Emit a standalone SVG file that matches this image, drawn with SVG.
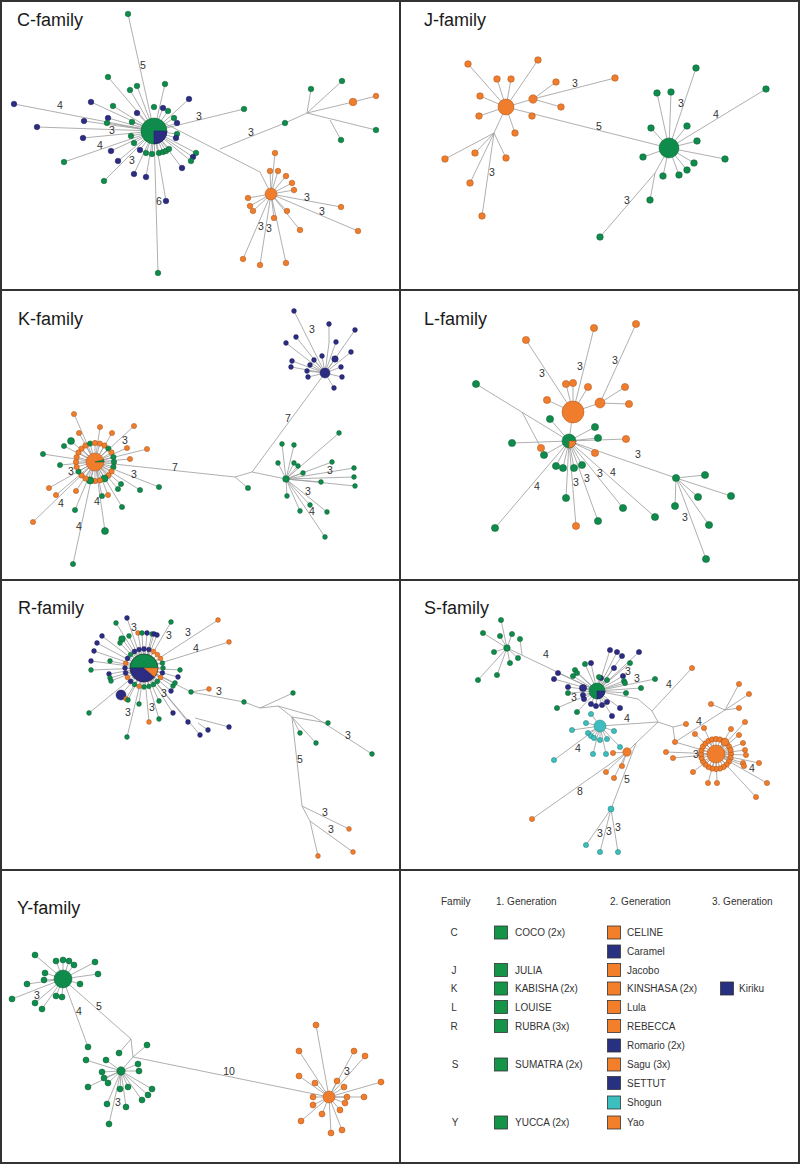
<svg xmlns="http://www.w3.org/2000/svg" width="800" height="1164" viewBox="0 0 800 1164">
<style>
.e{fill:none;stroke:#9a9a9a;stroke-width:.8}
.g{fill:#0f8b4b;stroke:#0a5e33;stroke-width:.5}
.n{fill:#2c2c83;stroke:#1c1c5a;stroke-width:.5}
.o{fill:#f07d2c;stroke:#a8521a;stroke-width:.5}
.t{fill:#3dbdbd;stroke:#267c7c;stroke-width:.5}
.ti{font-family:"Liberation Sans",Arial,sans-serif;font-size:18px;fill:#1a1a1a}
.l{font-family:"Liberation Sans",Arial,sans-serif;font-size:10.5px;fill:#333;text-anchor:middle}
.lg{font-family:"Liberation Sans",Arial,sans-serif;font-size:10px;fill:#333}
.fr{fill:none;stroke:#333;stroke-width:2}
.sq{stroke:#333;stroke-width:.8}
</style>
<rect x="0" y="0" width="800" height="1164" fill="#fff"/>
<g id="frame">
<rect class="fr" x="1" y="1" width="798" height="1162"/>
<path class="fr" d="M400 0V1164M0 290H800M0 580H800M0 870H800"/>
</g>
<g id="connectors" class="e">
<path d="M128 14L154 131M108 77L154 131M130 90L154 131M137 86L154 131M165 84L154 131M189 99L154 131M91 102L154 131M113 106L154 131M163 108L154 131M168 111L154 131M137 113L154 131M174 118L154 131M177 123L154 131M108 118L154 131M107 123L154 131M132 122L154 131M84 121L154 131M14 104L154 131M37 127L154 131M83 138L154 131M131 136L154 131M134 143L154 131M177 134L154 131M176 138L154 131M64 162L154 131M111 151L154 131M140 150L154 131M146 153L154 131M152 154L154 131M159 153L154 131M163 152L154 131M166 151L154 131M169 149L154 131M196 153L154 131M193 157L154 131M191 161L154 131M182 168L154 131M118 161L154 131M104 181L154 131M134 174L154 131M146 177L154 131M166 201L154 131M158 273L154 131M244 109L154 131"/>
<path d="M166 124L260 172L271 194M220 149L285 123L307 113L311 89M307 113L342 81M307 113L353 102L376 96M307 113L376 130M330 120L341 140"/>
<path d="M275 153L271 194M270 171L271 194M278 171L271 194M286 176L271 194M292 183L271 194M294 190L271 194M248 198L271 194M250 206L271 194M253 211L271 194M287 211L271 194M274 218L271 194M300 230L271 194M341 207L271 194M358 231L271 194M243 259L271 194M260 265L271 194M286 263L271 194"/>
<path d="M468 64L506 107M538 60L506 107M497 79L506 107M511 79L506 107M480 96L506 107M479 116L506 107M515 133L506 107M533 99L506 107M506 107L669 148M506 107L494 133M533 99L556 82M533 99L615 78M533 99L561 107M494 133L445 159M494 133L475 153M494 133L506 158M494 133L470 183M494 133L482 216"/>
<path d="M696 68L669 148M657 93L669 148M671 92L669 148M651 128L669 148M687 126L669 148M697 141L669 148M766 89L669 148M643 157L669 148M725 159L669 148M694 163L669 148M687 170L669 148M679 175L669 148M663 176L669 148M669 148L655 173L650 200M655 173L600 237"/>
<path d="M74 414L95 462M100 427L95 462M134 426L95 462M79 433L95 462M112 433L95 462M71 441L95 462M64 446L95 462M127 448L95 462M147 449L95 462M43 454L95 462M60 465L95 462M130 459L95 462M159 487L95 462M121 484L95 462M118 489L95 462M140 490L95 462M49 488L95 462M56 495L95 462M76 491L95 462M108 495L95 462M102 496L95 462M122 507L95 462M75 510L95 462M33 522L95 462M105 531L95 462M73 564L95 462"/>
<path d="M95 462L114 462M95 462L113.4 466.9M95 462L111.5 471.5M95 462L108.4 475.4M95 462L104.5 478.5M95 462L99.9 480.4M95 462L95 481M95 462L90.1 480.4M95 462L85.5 478.5M95 462L81.6 475.4M95 462L78.5 471.5M95 462L76.6 466.9M95 462L76 462M95 462L76.6 457.1M95 462L78.5 452.5M95 462L81.6 448.6M95 462L85.5 445.5M95 462L90.1 443.6M95 462L95 443M95 462L99.9 443.6M95 462L104.5 445.5M95 462L108.4 448.6M95 462L111.5 452.5M95 462L113.4 457.1"/>
<path d="M95 462L235 477L248 488M235 477L252 472L325 373M252 472L286 479"/>
<path d="M294 311L325 373M329 324L329 343L325 373M355 330L325 373M336 342L325 373M296 337L325 373M286 343L325 373M322 356L325 373M335 359L325 373M351 352L325 373M314 360L325 373M292 361L325 373M310 365L325 373M291 367L325 373M307 371L325 373M341 367L325 373M308 377L325 373M342 377L325 373M334 388L325 373"/>
<path d="M339 433L286 479M282 444L286 479M294 445L286 479M278 463L286 479M294 463L286 479M298 466L286 479M332 462L286 479M303 473L286 479M354 468L286 479M321 482L286 479M354 477L286 479M355 486L286 479M287 496L286 479M310 505L286 479M300 511L286 479M327 512L286 479M325 537L286 479"/>
<path d="M526 340L573 412M594 328L573 412M566 384L573 412M573 383L573 412M588 387L573 412M547 400L573 412M600 403L573 412M569 441L573 412M636 324L600 403M625 387L600 403M629 404L600 403"/>
<path d="M476 384L569 441M522 412L541 448M550 419L569 441M595 427L569 441M598 438L569 441M626 439L569 441M512 443L569 441M544 455L569 441M595 453L569 441M556 466L569 441M563 468L569 441M574 468L569 441M582 465L569 441M566 498L569 441M576 526L569 441M598 521L569 441M623 508L569 441M655 517L569 441M495 528L569 441M676 478L569 441M705 475L676 478M731 496L676 478M698 497L676 478M675 506L676 478M709 525L676 478M706 559L676 478"/>
<path d="M116 623L144 668M127 618L144 668M138 633L144 668M142 633L144 668M147 633L144 668M152 634L144 668M154 634L144 668M157 635L144 668M171 622L144 668M218 620L144 668M229 642L144 668M102 636L144 668M129 636L144 668M122 639L144 668M120 643L144 668M97 643L144 668M94 651L144 668M91 661L144 668M110 661L144 668M91 670L144 668M109 674L144 668M110 678L144 668M111 681L144 668M180 670L144 668M178 677L144 668M121 695L144 668M126 699L144 668M128 700L144 668M89 713L144 668M139 704L144 668M127 737L144 668M149 722L144 668M159 701L144 668M159 719L144 668M173 713L144 668M171 691L144 668M173 686L144 668M175 683L144 668"/>
<path d="M144 668L163 668M144 668L162.4 672.9M144 668L160.5 677.5M144 668L157.4 681.4M144 668L153.5 684.5M144 668L148.9 686.4M144 668L144 687M144 668L139.1 686.4M144 668L134.5 684.5M144 668L130.6 681.4M144 668L127.5 677.5M144 668L125.6 672.9M144 668L125 668M144 668L125.6 663.1M144 668L127.5 658.5M144 668L130.6 654.6M144 668L134.5 651.5M144 668L139.1 649.6M144 668L144 649M144 668L148.9 649.6M144 668L153.5 651.5M144 668L157.4 654.6M144 668L160.5 658.5M144 668L162.4 663.1"/>
<path d="M144 668L200 735M195 718L229 727M198 723L208 730M144 668L188 722M144 668L191 692L244 702L260 708L278 706M191 692L209 689M260 708L293 693M278 706L313 716L372 754M278 706L292 717L328 723M292 717L300 733M292 717L316 743M292 717L302 806L349 829M302 806L310 821L353 852M310 821L318 856"/>
<path d="M501 620L507 648M483 633L507 648M500 636L507 648M512 634L507 648M494 652L507 648M510 663L507 648M518 658L507 648M497 675L507 648M478 680L507 648M522 655L520 639M507 648L597 691"/>
<path d="M610 650L597 691M617 652L597 691M622 656L597 691M639 652L597 691M591 663L597 691M614 668L597 691M558 673L597 691M554 679L597 691M601 678L597 691M623 676L597 691M568 687L597 691M583 688L597 691M583 695L597 691M584 699L597 691M607 702L597 691M591 704L597 691M596 706L597 691M602 705L597 691M620 708L597 691M612 716L597 691M585 664L597 691M630 663L597 691M575 670L597 691M577 673L597 691M573 676L597 691M599 677L597 691M607 680L597 691M624 681L597 691M625 683L597 691M655 679L597 691M641 688L597 691M626 693L597 691M568 693L597 691M557 708L597 691M577 712L597 691"/>
<path d="M597 691L638 699L652 711L658 722M652 711L692 668M658 722L600 726M658 722L673 727L686 724M673 727L675 742L716 754M675 742L725 710L739 684M725 710L749 694M725 710L739 708M725 710L711 704M658 722L636 743L627 752M636 743L611 809"/>
<path d="M613 753L627 752M622 766L627 752M614 778L627 752M606 772L627 752M532 819L627 752M586 845L611 809M600 852L611 809M618 852L611 809"/>
<path d="M591 714L600 726M586 723L600 726M572 730L600 726M614 731L600 726M588 733L600 726M591 736L600 726M594 738L600 726M600 740L600 726M607 739L600 726M620 747L600 726M593 754L600 726M606 754L600 726M554 760L600 726"/>
<path d="M695 734L716 754M704 728L716 754M731 729L716 754M745 722L716 754M739 735L716 754M725 742L716 754M743 743L716 754M745 750L716 754M746 755L716 754M666 752L716 754M673 758L716 754M759 763L716 754M743 763L716 754M744 766L716 754M767 783L716 754M756 797L716 754M693 772L716 754M708 783L716 754M717 783L716 754"/>
<path d="M716 754L731 754M716 754L730.5 757.9M716 754L729 761.5M716 754L726.6 764.6M716 754L723.5 767M716 754L719.9 768.5M716 754L716 769M716 754L712.1 768.5M716 754L708.5 767M716 754L705.4 764.6M716 754L703 761.5M716 754L701.5 757.9M716 754L701 754M716 754L701.5 750.1M716 754L703 746.5M716 754L705.4 743.4M716 754L708.5 741M716 754L712.1 739.5M716 754L716 739M716 754L719.9 739.5M716 754L723.5 741M716 754L726.6 743.4M716 754L729 746.5M716 754L730.5 750.1"/>
<path d="M35 955L63 979M56 961L63 979M63 960L63 979M69 961L63 979M74 965L63 979M95 962L63 979M98 974L63 979M45 973L63 979M44 980L63 979M27 984L63 979M80 984L63 979M12 999L63 979M35 1003L63 979M56 996L63 979M62 997L63 979M42 1009L63 979M88 1047L63 979M63 979L131 1039L133 1057L121 1071M131 1039L119 1053M133 1057L147 1045M133 1057L329 1097"/>
<path d="M86 1060L121 1071M106 1060L121 1071M138 1064L121 1071M139 1071L121 1071M102 1072L121 1071M104 1078L121 1071M108 1083L121 1071M88 1087L121 1071M120 1089L121 1071M128 1087L121 1071M152 1089L121 1071M148 1095L121 1071M142 1100L121 1071M107 1104L121 1071M126 1107L121 1071M109 1124L121 1071"/>
<path d="M316 1025L329 1097M299 1051L329 1097M354 1051L329 1097M365 1056L329 1097M299 1076L329 1097M337 1081L329 1097M315 1083L329 1097M381 1082L329 1097M344 1087L329 1097M313 1097L329 1097M347 1097L329 1097M364 1097L329 1097M345 1103L329 1097M313 1105L329 1097M340 1110L329 1097M322 1114L329 1097M301 1121L329 1097M331 1133L329 1097M342 1130L329 1097"/>
</g>
<g id="C-family">
<text class="ti" x="17" y="25.5">C-family</text>
<g id="c-hub-coco"><circle class="g" cx="154" cy="131" r="13"/><path class="n" d="M154 131L167 131A13 13 0 0 1 154 144Z"/></g>
<g id="c-hub-celine"><circle class="o" cx="271" cy="194" r="6"/></g>
<circle id="c1" class="g" cx="128" cy="14" r="2.8"/><circle id="c2" class="g" cx="108" cy="77" r="2.8"/><circle id="c3" class="g" cx="130" cy="90" r="2.8"/><circle id="c4" class="g" cx="137" cy="86" r="2.8"/><circle id="c5" class="g" cx="165" cy="84" r="2.8"/><circle id="c6" class="n" cx="189" cy="99" r="2.8"/><circle id="c7" class="n" cx="91" cy="102" r="2.8"/><circle id="c8" class="g" cx="113" cy="106" r="2.8"/><circle id="c9" class="g" cx="154" cy="107" r="2.8"/><circle id="c10" class="n" cx="163" cy="108" r="2.8"/><circle id="c11" class="g" cx="168" cy="111" r="2.8"/><circle id="c12" class="n" cx="137" cy="113" r="2.8"/><circle id="c13" class="g" cx="174" cy="118" r="2.8"/><circle id="c14" class="n" cx="177" cy="123" r="2.8"/><circle id="c15" class="n" cx="108" cy="118" r="2.8"/><circle id="c16" class="g" cx="107" cy="123" r="2.8"/><circle id="c17" class="g" cx="132" cy="122" r="2.8"/><circle id="c18" class="n" cx="84" cy="121" r="2.8"/><circle id="c19" class="n" cx="14" cy="104" r="2.8"/><circle id="c20" class="n" cx="37" cy="127" r="2.8"/><circle id="c21" class="n" cx="83" cy="138" r="2.8"/><circle id="c22" class="g" cx="131" cy="136" r="2.8"/><circle id="c23" class="g" cx="134" cy="143" r="2.8"/><circle id="c24" class="g" cx="177" cy="134" r="2.8"/><circle id="c25" class="n" cx="176" cy="138" r="2.8"/><circle id="c26" class="g" cx="64" cy="162" r="2.8"/><circle id="c27" class="n" cx="111" cy="151" r="2.8"/><circle id="c28" class="n" cx="140" cy="150" r="2.8"/><circle id="c29" class="g" cx="146" cy="153" r="2.8"/><circle id="c30" class="g" cx="152" cy="154" r="2.8"/><circle id="c31" class="g" cx="159" cy="153" r="2.8"/><circle id="c32" class="g" cx="163" cy="152" r="2.8"/><circle id="c33" class="g" cx="166" cy="151" r="2.8"/><circle id="c34" class="g" cx="169" cy="149" r="2.8"/><circle id="c35" class="g" cx="196" cy="153" r="2.8"/><circle id="c36" class="n" cx="193" cy="157" r="2.8"/><circle id="c37" class="g" cx="191" cy="161" r="2.8"/><circle id="c38" class="n" cx="182" cy="168" r="2.8"/><circle id="c39" class="n" cx="118" cy="161" r="2.8"/><circle id="c40" class="g" cx="104" cy="181" r="2.8"/><circle id="c41" class="n" cx="134" cy="174" r="2.8"/><circle id="c42" class="n" cx="146" cy="177" r="2.8"/><circle id="c43" class="n" cx="166" cy="201" r="2.8"/><circle id="c44" class="g" cx="158" cy="273" r="2.8"/><circle id="c45" class="g" cx="244" cy="109" r="2.8"/>
<circle id="c46" class="g" cx="285" cy="123" r="2.8"/><circle id="c47" class="g" cx="311" cy="89" r="2.8"/><circle id="c48" class="g" cx="342" cy="81" r="2.8"/><circle id="c49" class="o" cx="353" cy="102" r="3.8"/><circle id="c50" class="o" cx="376" cy="96" r="2.8"/><circle id="c51" class="g" cx="376" cy="130" r="2.8"/><circle id="c52" class="g" cx="341" cy="140" r="2.8"/>
<circle id="c53" class="o" cx="275" cy="153" r="2.8"/><circle id="c54" class="o" cx="270" cy="171" r="2.8"/><circle id="c55" class="o" cx="278" cy="171" r="2.8"/><circle id="c56" class="o" cx="286" cy="176" r="2.8"/><circle id="c57" class="o" cx="292" cy="183" r="2.8"/><circle id="c58" class="o" cx="294" cy="190" r="2.8"/><circle id="c59" class="o" cx="248" cy="198" r="2.8"/><circle id="c60" class="o" cx="250" cy="206" r="2.8"/><circle id="c61" class="o" cx="253" cy="211" r="2.8"/><circle id="c62" class="o" cx="287" cy="211" r="2.8"/><circle id="c63" class="o" cx="274" cy="218" r="2.8"/><circle id="c64" class="o" cx="300" cy="230" r="2.8"/><circle id="c65" class="o" cx="341" cy="207" r="2.8"/><circle id="c66" class="o" cx="358" cy="231" r="2.8"/><circle id="c67" class="o" cx="243" cy="259" r="2.8"/><circle id="c68" class="o" cx="260" cy="265" r="2.8"/><circle id="c69" class="o" cx="286" cy="263" r="2.8"/>
<text class="l" x="143" y="69">5</text><text class="l" x="60" y="109">4</text><text class="l" x="112" y="134">3</text><text class="l" x="100" y="149">4</text><text class="l" x="132" y="164">3</text><text class="l" x="159" y="205">6</text><text class="l" x="199" y="120">3</text><text class="l" x="251" y="136">3</text><text class="l" x="307" y="201">3</text><text class="l" x="322" y="215">3</text><text class="l" x="261" y="230">3</text><text class="l" x="269" y="232">3</text>
</g>
<g id="J-family">
<text class="ti" x="424" y="25.5">J-family</text>
<g id="j-hub-jacobo"><circle class="o" cx="506" cy="107" r="8"/></g>
<g id="j-hub-julia"><circle class="g" cx="669" cy="148" r="10"/></g>
<circle id="j1" class="o" cx="468" cy="64" r="3.3"/><circle id="j2" class="o" cx="538" cy="60" r="3.3"/><circle id="j3" class="o" cx="497" cy="79" r="3.3"/><circle id="j4" class="o" cx="511" cy="79" r="3.3"/><circle id="j5" class="o" cx="480" cy="96" r="3.3"/><circle id="j6" class="o" cx="479" cy="116" r="3.3"/><circle id="j7" class="o" cx="515" cy="133" r="3.3"/><circle id="j8" class="o" cx="533" cy="99" r="4.2"/><circle id="j9" class="o" cx="532" cy="116" r="3.3"/><circle id="j10" class="o" cx="556" cy="82" r="3.3"/><circle id="j11" class="o" cx="615" cy="78" r="3.3"/><circle id="j12" class="o" cx="561" cy="107" r="3.3"/><circle id="j13" class="o" cx="445" cy="159" r="3.3"/><circle id="j14" class="o" cx="475" cy="153" r="3.3"/><circle id="j15" class="o" cx="506" cy="158" r="3.3"/><circle id="j16" class="o" cx="470" cy="183" r="3.3"/><circle id="j17" class="o" cx="482" cy="216" r="3.3"/>
<circle id="j18" class="g" cx="696" cy="68" r="3.3"/><circle id="j19" class="g" cx="657" cy="93" r="3.3"/><circle id="j20" class="g" cx="671" cy="92" r="3.3"/><circle id="j21" class="g" cx="651" cy="128" r="3.3"/><circle id="j22" class="g" cx="687" cy="126" r="3.3"/><circle id="j23" class="g" cx="697" cy="141" r="3.3"/><circle id="j24" class="g" cx="766" cy="89" r="3.3"/><circle id="j25" class="g" cx="643" cy="157" r="3.3"/><circle id="j26" class="g" cx="725" cy="159" r="3.3"/><circle id="j27" class="g" cx="694" cy="163" r="3.3"/><circle id="j28" class="g" cx="687" cy="170" r="3.3"/><circle id="j29" class="g" cx="679" cy="175" r="3.3"/><circle id="j30" class="g" cx="663" cy="176" r="3.3"/><circle id="j31" class="g" cx="650" cy="200" r="3.3"/><circle id="j32" class="g" cx="600" cy="237" r="3.3"/>
<text class="l" x="575" y="87">3</text><text class="l" x="599" y="130">5</text><text class="l" x="492" y="176">3</text><text class="l" x="681" y="107">3</text><text class="l" x="716" y="118">4</text><text class="l" x="627" y="204">3</text>
</g>
<g id="K-family">
<text class="ti" x="18" y="324.5">K-family</text>
<g id="k-hub-kabisha"><circle class="o" cx="95" cy="462" r="9"/><path class="g" d="M95 462L104 462A9 9 0 0 0 103.7 459.7Z"/></g>
<g id="k-ring">
<circle class="g" cx="114" cy="462" r="2.7"/><circle class="g" cx="113.4" cy="466.9" r="2.7"/><circle class="o" cx="111.5" cy="471.5" r="2.7"/><circle class="o" cx="108.4" cy="475.4" r="2.7"/><circle class="g" cx="104.5" cy="478.5" r="3.6"/><circle class="o" cx="99.9" cy="480.4" r="2.7"/><circle class="o" cx="95" cy="481" r="2.7"/><circle class="g" cx="90.1" cy="480.4" r="3.6"/><circle class="o" cx="85.5" cy="478.5" r="2.7"/><circle class="o" cx="81.6" cy="475.4" r="2.7"/><circle class="g" cx="78.5" cy="471.5" r="2.7"/><circle class="o" cx="76.6" cy="466.9" r="2.7"/><circle class="o" cx="76" cy="462" r="2.7"/><circle class="o" cx="76.6" cy="457.1" r="2.7"/><circle class="o" cx="78.5" cy="452.5" r="2.7"/><circle class="o" cx="81.6" cy="448.6" r="2.7"/><circle class="o" cx="85.5" cy="445.5" r="2.7"/><circle class="g" cx="90.1" cy="443.6" r="2.7"/><circle class="o" cx="95" cy="443" r="2.7"/><circle class="o" cx="99.9" cy="443.6" r="2.7"/><circle class="o" cx="104.5" cy="445.5" r="2.7"/><circle class="g" cx="108.4" cy="448.6" r="2.7"/><circle class="o" cx="111.5" cy="452.5" r="2.7"/><circle class="g" cx="113.4" cy="457.1" r="2.7"/>
</g>
<circle id="k1" class="o" cx="74" cy="414" r="2.6"/><circle id="k2" class="o" cx="100" cy="427" r="2.6"/><circle id="k3" class="o" cx="134" cy="426" r="2.6"/><circle id="k4" class="o" cx="79" cy="433" r="2.6"/><circle id="k5" class="o" cx="112" cy="433" r="2.6"/><circle id="k6" class="g" cx="71" cy="441" r="3.5"/><circle id="k7" class="g" cx="64" cy="446" r="2.6"/><circle id="k8" class="o" cx="127" cy="448" r="2.6"/><circle id="k9" class="o" cx="147" cy="449" r="2.6"/><circle id="k10" class="g" cx="43" cy="454" r="2.6"/><circle id="k11" class="g" cx="60" cy="465" r="2.6"/><circle id="k12" class="o" cx="130" cy="459" r="2.6"/><circle id="k13" class="g" cx="159" cy="487" r="2.6"/><circle id="k14" class="g" cx="121" cy="484" r="2.6"/><circle id="k15" class="g" cx="118" cy="489" r="2.6"/><circle id="k16" class="g" cx="140" cy="490" r="2.6"/><circle id="k17" class="o" cx="49" cy="488" r="2.6"/><circle id="k18" class="o" cx="56" cy="495" r="2.6"/><circle id="k19" class="o" cx="76" cy="491" r="2.6"/><circle id="k20" class="o" cx="108" cy="495" r="2.6"/><circle id="k21" class="g" cx="102" cy="496" r="2.6"/><circle id="k22" class="g" cx="122" cy="507" r="2.6"/><circle id="k23" class="g" cx="75" cy="510" r="2.6"/><circle id="k24" class="o" cx="33" cy="522" r="2.6"/><circle id="k25" class="g" cx="105" cy="531" r="3.5"/><circle id="k26" class="g" cx="73" cy="564" r="2.6"/><circle id="k27" class="g" cx="248" cy="488" r="2.6"/>
<g id="k-hub-kiriku"><circle class="n" cx="325" cy="373" r="5"/></g>
<circle id="k28" class="n" cx="294" cy="311" r="2.4"/><circle id="k29" class="n" cx="329" cy="324" r="2.4"/><circle id="k30" class="n" cx="355" cy="330" r="2.4"/><circle id="k31" class="n" cx="336" cy="342" r="2.4"/><circle id="k32" class="n" cx="296" cy="337" r="2.4"/><circle id="k33" class="n" cx="286" cy="343" r="2.4"/><circle id="k34" class="n" cx="322" cy="356" r="2.4"/><circle id="k35" class="n" cx="335" cy="359" r="3.2"/><circle id="k36" class="n" cx="351" cy="352" r="2.4"/><circle id="k37" class="n" cx="314" cy="360" r="2.4"/><circle id="k38" class="n" cx="292" cy="361" r="2.4"/><circle id="k39" class="n" cx="310" cy="365" r="2.4"/><circle id="k40" class="n" cx="291" cy="367" r="2.4"/><circle id="k41" class="n" cx="307" cy="371" r="2.4"/><circle id="k42" class="n" cx="341" cy="367" r="2.4"/><circle id="k43" class="n" cx="308" cy="377" r="2.4"/><circle id="k44" class="n" cx="342" cy="377" r="2.4"/><circle id="k45" class="n" cx="334" cy="388" r="2.4"/>
<g id="k-hub-kabisha2"><circle class="g" cx="286" cy="479" r="3.3"/></g>
<circle id="k46" class="g" cx="339" cy="433" r="2.4"/><circle id="k47" class="g" cx="282" cy="444" r="2.4"/><circle id="k48" class="g" cx="294" cy="445" r="2.4"/><circle id="k49" class="g" cx="278" cy="463" r="2.4"/><circle id="k50" class="g" cx="294" cy="463" r="2.4"/><circle id="k51" class="g" cx="298" cy="466" r="2.4"/><circle id="k52" class="g" cx="332" cy="462" r="2.4"/><circle id="k53" class="g" cx="303" cy="473" r="2.4"/><circle id="k54" class="g" cx="354" cy="468" r="2.4"/><circle id="k55" class="g" cx="321" cy="482" r="2.4"/><circle id="k56" class="g" cx="354" cy="477" r="2.4"/><circle id="k57" class="g" cx="355" cy="486" r="2.4"/><circle id="k58" class="g" cx="287" cy="496" r="2.4"/><circle id="k59" class="g" cx="310" cy="505" r="2.4"/><circle id="k60" class="g" cx="300" cy="511" r="2.4"/><circle id="k61" class="g" cx="327" cy="512" r="2.4"/><circle id="k62" class="g" cx="325" cy="537" r="2.4"/>
<text class="l" x="125" y="444">3</text><text class="l" x="134" y="478">3</text><text class="l" x="71" y="475">3</text><text class="l" x="61" y="507">4</text><text class="l" x="97" y="505">4</text><text class="l" x="79" y="530">4</text><text class="l" x="175" y="471">7</text><text class="l" x="288" y="422">7</text><text class="l" x="312" y="333">3</text><text class="l" x="330" y="474">3</text><text class="l" x="308" y="495">3</text><text class="l" x="312" y="515">4</text>
</g>
<g id="L-family">
<text class="ti" x="424" y="324.5">L-family</text>
<g id="l-hub-lula"><circle class="o" cx="573" cy="412" r="11"/></g>
<g id="l-hub-lula2"><circle class="o" cx="600" cy="403" r="5"/></g>
<g id="l-hub-louise"><circle class="g" cx="569" cy="441" r="7"/><path class="o" d="M569 441L576 441A7 7 0 0 1 569 448Z"/></g>
<circle id="l1" class="o" cx="526" cy="340" r="3.6"/><circle id="l2" class="o" cx="594" cy="328" r="3.6"/><circle id="l3" class="o" cx="566" cy="384" r="3.6"/><circle id="l4" class="o" cx="573" cy="383" r="3.6"/><circle id="l5" class="o" cx="588" cy="387" r="3.6"/><circle id="l6" class="o" cx="547" cy="400" r="3.6"/><circle id="l7" class="o" cx="636" cy="324" r="3.6"/><circle id="l8" class="o" cx="625" cy="387" r="3.6"/><circle id="l9" class="o" cx="629" cy="404" r="3.6"/><circle id="l10" class="o" cx="626" cy="439" r="3.6"/><circle id="l11" class="o" cx="541" cy="448" r="3.6"/><circle id="l12" class="o" cx="595" cy="453" r="3.6"/><circle id="l13" class="o" cx="576" cy="526" r="3.6"/>
<circle id="l14" class="g" cx="476" cy="384" r="3.6"/><circle id="l15" class="g" cx="550" cy="419" r="3.6"/><circle id="l16" class="g" cx="595" cy="427" r="3.6"/><circle id="l17" class="g" cx="598" cy="438" r="3.6"/><circle id="l18" class="g" cx="512" cy="443" r="3.6"/><circle id="l19" class="g" cx="544" cy="455" r="3.6"/><circle id="l20" class="g" cx="556" cy="466" r="3.6"/><circle id="l21" class="g" cx="563" cy="468" r="3.6"/><circle id="l22" class="g" cx="574" cy="468" r="3.6"/><circle id="l23" class="g" cx="582" cy="465" r="3.6"/><circle id="l24" class="g" cx="566" cy="498" r="3.6"/><circle id="l25" class="g" cx="598" cy="521" r="3.6"/><circle id="l26" class="g" cx="623" cy="508" r="3.6"/><circle id="l27" class="g" cx="655" cy="517" r="3.6"/><circle id="l28" class="g" cx="495" cy="528" r="3.6"/><circle id="l29" class="g" cx="676" cy="478" r="3.6"/><circle id="l30" class="g" cx="705" cy="475" r="3.6"/><circle id="l31" class="g" cx="731" cy="496" r="3.6"/><circle id="l32" class="g" cx="698" cy="497" r="3.6"/><circle id="l33" class="g" cx="675" cy="506" r="3.6"/><circle id="l34" class="g" cx="709" cy="525" r="3.6"/><circle id="l35" class="g" cx="706" cy="559" r="3.6"/>
<text class="l" x="542" y="377">3</text><text class="l" x="580" y="370">3</text><text class="l" x="615" y="364">3</text><text class="l" x="638" y="458">3</text><text class="l" x="576" y="486">3</text><text class="l" x="587" y="482">3</text><text class="l" x="600" y="477">3</text><text class="l" x="613" y="476">4</text><text class="l" x="537" y="490">4</text><text class="l" x="685" y="521">3</text>
</g>
<g id="R-family">
<text class="ti" x="18" y="613.5">R-family</text>
<g id="r-hub-rubra"><path class="g" d="M130 668A14 14 0 0 1 158 668Z"/><path class="n" d="M144 668L154.7 677A14 14 0 0 1 130 668Z"/><path class="o" d="M144 668L158 668A14 14 0 0 1 154.7 677Z"/><circle cx="144" cy="668" r="14" fill="none" stroke="#333" stroke-width=".5"/></g>
<g id="r-ring">
<circle class="g" cx="163" cy="668" r="2.4"/><circle class="n" cx="162.4" cy="672.9" r="2.4"/><circle class="o" cx="160.5" cy="677.5" r="2.4"/><circle class="g" cx="157.4" cy="681.4" r="2.4"/><circle class="g" cx="153.5" cy="684.5" r="2.4"/><circle class="g" cx="148.9" cy="686.4" r="2.4"/><circle class="g" cx="144" cy="687" r="2.4"/><circle class="o" cx="139.1" cy="686.4" r="2.4"/><circle class="g" cx="134.5" cy="684.5" r="2.4"/><circle class="n" cx="130.6" cy="681.4" r="2.4"/><circle class="o" cx="127.5" cy="677.5" r="2.4"/><circle class="n" cx="125.6" cy="672.9" r="2.4"/><circle class="n" cx="125" cy="668" r="2.4"/><circle class="o" cx="125.6" cy="663.1" r="2.4"/><circle class="n" cx="127.5" cy="658.5" r="2.4"/><circle class="g" cx="130.6" cy="654.6" r="2.4"/><circle class="n" cx="134.5" cy="651.5" r="2.4"/><circle class="n" cx="139.1" cy="649.6" r="2.4"/><circle class="n" cx="144" cy="649" r="2.4"/><circle class="n" cx="148.9" cy="649.6" r="2.4"/><circle class="o" cx="153.5" cy="651.5" r="2.4"/><circle class="o" cx="157.4" cy="654.6" r="2.4"/><circle class="o" cx="160.5" cy="658.5" r="2.4"/><circle class="g" cx="162.4" cy="663.1" r="2.4"/>
</g>
<circle id="r1" class="g" cx="116" cy="623" r="2.4"/><circle id="r2" class="n" cx="127" cy="618" r="2.4"/><circle id="r3" class="o" cx="138" cy="633" r="2.4"/><circle id="r4" class="g" cx="142" cy="633" r="2.4"/><circle id="r5" class="n" cx="147" cy="633" r="2.4"/><circle id="r6" class="g" cx="152" cy="634" r="2.4"/><circle id="r7" class="n" cx="154" cy="634" r="2.4"/><circle id="r8" class="n" cx="157" cy="635" r="2.4"/><circle id="r9" class="g" cx="171" cy="622" r="2.4"/><circle id="r10" class="o" cx="218" cy="620" r="2.4"/><circle id="r11" class="o" cx="229" cy="642" r="2.4"/><circle id="r12" class="n" cx="102" cy="636" r="2.4"/><circle id="r13" class="g" cx="129" cy="636" r="2.4"/><circle id="r14" class="g" cx="122" cy="639" r="3.3"/><circle id="r15" class="g" cx="120" cy="643" r="2.4"/><circle id="r16" class="n" cx="97" cy="643" r="2.4"/><circle id="r17" class="n" cx="94" cy="651" r="2.4"/><circle id="r18" class="n" cx="91" cy="661" r="2.4"/><circle id="r19" class="g" cx="110" cy="661" r="2.4"/><circle id="r20" class="g" cx="91" cy="670" r="2.4"/><circle id="r21" class="n" cx="109" cy="674" r="2.4"/><circle id="r22" class="g" cx="110" cy="678" r="2.4"/><circle id="r23" class="g" cx="111" cy="681" r="2.4"/><circle id="r24" class="g" cx="180" cy="670" r="2.4"/><circle id="r25" class="n" cx="178" cy="677" r="2.4"/><circle id="r26" class="n" cx="121" cy="695" r="5"/><circle id="r27" class="o" cx="126" cy="699" r="2.4"/><circle id="r28" class="g" cx="128" cy="700" r="2.4"/><circle id="r29" class="g" cx="89" cy="713" r="2.4"/><circle id="r30" class="g" cx="139" cy="704" r="2.4"/><circle id="r31" class="g" cx="127" cy="737" r="2.4"/><circle id="r32" class="o" cx="149" cy="722" r="2.4"/><circle id="r33" class="g" cx="159" cy="701" r="2.4"/><circle id="r34" class="g" cx="159" cy="719" r="2.4"/><circle id="r35" class="n" cx="173" cy="713" r="2.4"/><circle id="r36" class="n" cx="171" cy="691" r="2.4"/><circle id="r37" class="g" cx="173" cy="686" r="2.4"/><circle id="r38" class="g" cx="175" cy="683" r="2.4"/>
<circle id="r39" class="n" cx="200" cy="735" r="2.4"/><circle id="r40" class="n" cx="188" cy="722" r="2.4"/><circle id="r41" class="n" cx="208" cy="730" r="2.4"/><circle id="r42" class="n" cx="229" cy="727" r="2.4"/><circle id="r43" class="g" cx="191" cy="692" r="2.4"/><circle id="r44" class="o" cx="209" cy="689" r="2.4"/><circle id="r45" class="g" cx="244" cy="702" r="2.4"/><circle id="r46" class="g" cx="293" cy="693" r="2.4"/><circle id="r47" class="g" cx="328" cy="723" r="2.4"/><circle id="r48" class="g" cx="300" cy="733" r="2.4"/><circle id="r49" class="g" cx="316" cy="743" r="2.4"/><circle id="r50" class="g" cx="372" cy="754" r="2.4"/><circle id="r51" class="o" cx="349" cy="829" r="2.4"/><circle id="r52" class="o" cx="353" cy="852" r="2.4"/><circle id="r53" class="o" cx="318" cy="856" r="2.4"/>
<text class="l" x="134" y="631">3</text><text class="l" x="169" y="639">3</text><text class="l" x="188" y="636">3</text><text class="l" x="196" y="652">4</text><text class="l" x="128" y="716">3</text><text class="l" x="152" y="711">3</text><text class="l" x="164" y="697">3</text><text class="l" x="219" y="695">3</text><text class="l" x="348" y="739">3</text><text class="l" x="300" y="763">5</text><text class="l" x="325" y="816">3</text><text class="l" x="331" y="833">3</text>
</g>
<g id="S-family">
<text class="ti" x="424" y="613.5">S-family</text>
<g id="s-hub-sumatra2"><circle class="g" cx="507" cy="648" r="3.3"/></g>
<circle id="s1" class="g" cx="501" cy="620" r="2.6"/><circle id="s2" class="g" cx="483" cy="633" r="2.6"/><circle id="s3" class="g" cx="500" cy="636" r="2.6"/><circle id="s4" class="g" cx="512" cy="634" r="2.6"/><circle id="s5" class="g" cx="520" cy="639" r="2.6"/><circle id="s6" class="g" cx="494" cy="652" r="2.6"/><circle id="s7" class="g" cx="510" cy="663" r="2.6"/><circle id="s8" class="g" cx="518" cy="658" r="2.6"/><circle id="s9" class="g" cx="497" cy="675" r="2.6"/><circle id="s10" class="g" cx="478" cy="680" r="2.6"/>
<circle id="s11" class="n" cx="610" cy="650" r="2.6"/><circle id="s12" class="n" cx="617" cy="652" r="2.6"/><circle id="s13" class="n" cx="622" cy="656" r="2.6"/><circle id="s14" class="n" cx="639" cy="652" r="2.6"/><circle id="s15" class="n" cx="591" cy="663" r="2.6"/><circle id="s16" class="n" cx="614" cy="668" r="2.6"/><circle id="s17" class="n" cx="558" cy="673" r="2.6"/><circle id="s18" class="n" cx="554" cy="679" r="2.6"/><circle id="s19" class="n" cx="601" cy="678" r="2.6"/><circle id="s20" class="n" cx="623" cy="676" r="2.6"/><circle id="s21" class="n" cx="568" cy="687" r="2.6"/><circle id="s22" class="n" cx="583" cy="688" r="3.6"/><circle id="s23" class="n" cx="583" cy="695" r="2.6"/><circle id="s24" class="n" cx="584" cy="699" r="2.6"/><circle id="s25" class="n" cx="607" cy="702" r="2.6"/><circle id="s26" class="n" cx="591" cy="704" r="2.6"/><circle id="s27" class="n" cx="596" cy="706" r="2.6"/><circle id="s28" class="n" cx="602" cy="705" r="2.6"/><circle id="s29" class="n" cx="620" cy="708" r="2.6"/><circle id="s30" class="n" cx="612" cy="716" r="2.6"/>
<circle id="s31" class="g" cx="585" cy="664" r="2.6"/><circle id="s32" class="g" cx="630" cy="663" r="2.6"/><circle id="s33" class="g" cx="575" cy="670" r="2.6"/><circle id="s34" class="g" cx="577" cy="673" r="2.6"/><circle id="s35" class="g" cx="573" cy="676" r="2.6"/><circle id="s36" class="g" cx="599" cy="677" r="2.6"/><circle id="s37" class="g" cx="607" cy="680" r="2.6"/><circle id="s38" class="g" cx="624" cy="681" r="2.6"/><circle id="s39" class="g" cx="625" cy="683" r="2.6"/><circle id="s40" class="g" cx="655" cy="679" r="2.6"/><circle id="s41" class="g" cx="641" cy="688" r="2.6"/><circle id="s42" class="g" cx="626" cy="693" r="2.6"/><circle id="s43" class="g" cx="568" cy="693" r="2.6"/><circle id="s44" class="g" cx="557" cy="708" r="2.6"/><circle id="s45" class="g" cx="577" cy="712" r="2.6"/>
<g id="s-hub-sumatra"><circle class="g" cx="597" cy="691" r="8"/><path class="n" d="M597 691L605 691A8 8 0 0 1 597 699Z"/></g>
<g id="s-hub-shogun"><circle class="t" cx="600" cy="726" r="6"/></g>
<circle id="s46" class="t" cx="591" cy="714" r="2.6"/><circle id="s47" class="t" cx="586" cy="723" r="2.6"/><circle id="s48" class="t" cx="572" cy="730" r="2.6"/><circle id="s49" class="t" cx="614" cy="731" r="2.6"/><circle id="s50" class="t" cx="588" cy="733" r="2.6"/><circle id="s51" class="t" cx="591" cy="736" r="2.6"/><circle id="s52" class="t" cx="594" cy="738" r="2.6"/><circle id="s53" class="t" cx="600" cy="740" r="2.6"/><circle id="s54" class="t" cx="607" cy="739" r="2.6"/><circle id="s55" class="t" cx="620" cy="747" r="2.6"/><circle id="s56" class="t" cx="593" cy="754" r="2.6"/><circle id="s57" class="t" cx="606" cy="754" r="2.6"/><circle id="s58" class="t" cx="554" cy="760" r="2.6"/>
<g id="s-hub-sagu2"><circle class="o" cx="627" cy="752" r="4.2"/></g>
<circle id="s59" class="o" cx="613" cy="753" r="2.6"/><circle id="s60" class="o" cx="622" cy="766" r="2.6"/><circle id="s61" class="o" cx="614" cy="778" r="2.6"/><circle id="s62" class="o" cx="606" cy="772" r="2.6"/><circle id="s63" class="o" cx="532" cy="819" r="2.6"/>
<g id="s-hub-shogun2"><circle class="t" cx="611" cy="809" r="3"/></g>
<circle id="s64" class="t" cx="586" cy="845" r="2.6"/><circle id="s65" class="t" cx="600" cy="852" r="2.6"/><circle id="s66" class="t" cx="618" cy="852" r="2.6"/>
<circle id="s67" class="o" cx="692" cy="668" r="2.6"/><circle id="s68" class="o" cx="686" cy="724" r="2.6"/><circle id="s69" class="o" cx="675" cy="742" r="2.6"/><circle id="s70" class="o" cx="739" cy="684" r="2.6"/><circle id="s71" class="o" cx="749" cy="694" r="2.6"/><circle id="s72" class="o" cx="739" cy="708" r="2.6"/><circle id="s73" class="o" cx="711" cy="704" r="2.6"/>
<g id="s-ring">
<circle class="o" cx="731" cy="754" r="2.7"/><circle class="o" cx="730.5" cy="757.9" r="2.7"/><circle class="o" cx="729" cy="761.5" r="2.7"/><circle class="o" cx="726.6" cy="764.6" r="2.7"/><circle class="o" cx="723.5" cy="767" r="2.7"/><circle class="o" cx="719.9" cy="768.5" r="2.7"/><circle class="o" cx="716" cy="769" r="2.7"/><circle class="o" cx="712.1" cy="768.5" r="2.7"/><circle class="o" cx="708.5" cy="767" r="2.7"/><circle class="o" cx="705.4" cy="764.6" r="2.7"/><circle class="o" cx="703" cy="761.5" r="2.7"/><circle class="o" cx="701.5" cy="757.9" r="2.7"/><circle class="o" cx="701" cy="754" r="2.7"/><circle class="o" cx="701.5" cy="750.1" r="2.7"/><circle class="o" cx="703" cy="746.5" r="2.7"/><circle class="o" cx="705.4" cy="743.4" r="2.7"/><circle class="o" cx="708.5" cy="741" r="2.7"/><circle class="o" cx="712.1" cy="739.5" r="2.7"/><circle class="o" cx="716" cy="739" r="2.7"/><circle class="o" cx="719.9" cy="739.5" r="2.7"/><circle class="o" cx="723.5" cy="741" r="2.7"/><circle class="o" cx="726.6" cy="743.4" r="2.7"/><circle class="o" cx="729" cy="746.5" r="2.7"/><circle class="o" cx="730.5" cy="750.1" r="2.7"/>
</g>
<g id="s-hub-sagu"><circle class="o" cx="716" cy="754" r="9"/></g>
<circle id="s74" class="o" cx="695" cy="734" r="2.6"/><circle id="s75" class="o" cx="704" cy="728" r="2.6"/><circle id="s76" class="o" cx="731" cy="729" r="2.6"/><circle id="s77" class="o" cx="745" cy="722" r="2.6"/><circle id="s78" class="o" cx="739" cy="735" r="2.6"/><circle id="s79" class="o" cx="725" cy="742" r="3.8"/><circle id="s80" class="o" cx="743" cy="743" r="2.6"/><circle id="s81" class="o" cx="745" cy="750" r="2.6"/><circle id="s82" class="o" cx="746" cy="755" r="2.6"/><circle id="s83" class="o" cx="666" cy="752" r="2.6"/><circle id="s84" class="o" cx="673" cy="758" r="2.6"/><circle id="s85" class="o" cx="759" cy="763" r="2.6"/><circle id="s86" class="o" cx="743" cy="763" r="2.6"/><circle id="s87" class="o" cx="744" cy="766" r="2.6"/><circle id="s88" class="o" cx="767" cy="783" r="2.6"/><circle id="s89" class="o" cx="756" cy="797" r="2.6"/><circle id="s90" class="o" cx="693" cy="772" r="2.6"/><circle id="s91" class="o" cx="708" cy="783" r="2.6"/><circle id="s92" class="o" cx="717" cy="783" r="2.6"/>
<text class="l" x="546" y="658">4</text><text class="l" x="628" y="675">3</text><text class="l" x="637" y="682">3</text><text class="l" x="574" y="701">3</text><text class="l" x="669" y="688">4</text><text class="l" x="627" y="722">4</text><text class="l" x="699" y="725">4</text><text class="l" x="696" y="758">3</text><text class="l" x="752" y="772">4</text><text class="l" x="578" y="752">4</text><text class="l" x="580" y="795">8</text><text class="l" x="627" y="783">5</text><text class="l" x="600" y="837">3</text><text class="l" x="609" y="835">3</text><text class="l" x="618" y="831">3</text>
</g>
<g id="Y-family">
<text class="ti" x="17" y="913.5">Y-family</text>
<g id="y-hub-yucca"><circle class="g" cx="63" cy="979" r="9"/></g>
<g id="y-hub-yucca2"><circle class="g" cx="121" cy="1071" r="4.2"/></g>
<g id="y-hub-yao"><circle class="o" cx="329" cy="1097" r="6"/></g>
<circle id="y1" class="g" cx="35" cy="955" r="3"/><circle id="y2" class="g" cx="56" cy="961" r="3"/><circle id="y3" class="g" cx="63" cy="960" r="3"/><circle id="y4" class="g" cx="69" cy="961" r="3"/><circle id="y5" class="g" cx="74" cy="965" r="3"/><circle id="y6" class="g" cx="95" cy="962" r="3"/><circle id="y7" class="g" cx="98" cy="974" r="3"/><circle id="y8" class="g" cx="45" cy="973" r="3"/><circle id="y9" class="g" cx="44" cy="980" r="3"/><circle id="y10" class="g" cx="27" cy="984" r="3"/><circle id="y11" class="g" cx="80" cy="984" r="3"/><circle id="y12" class="g" cx="12" cy="999" r="3"/><circle id="y13" class="g" cx="35" cy="1003" r="3"/><circle id="y14" class="g" cx="56" cy="996" r="3"/><circle id="y15" class="g" cx="62" cy="997" r="3"/><circle id="y16" class="g" cx="42" cy="1009" r="3"/><circle id="y17" class="g" cx="88" cy="1047" r="3"/><circle id="y18" class="g" cx="119" cy="1053" r="3"/><circle id="y19" class="g" cx="147" cy="1045" r="3"/>
<circle id="y20" class="g" cx="86" cy="1060" r="3"/><circle id="y21" class="g" cx="106" cy="1060" r="3"/><circle id="y22" class="g" cx="138" cy="1064" r="3"/><circle id="y23" class="g" cx="139" cy="1071" r="3"/><circle id="y24" class="g" cx="102" cy="1072" r="3"/><circle id="y25" class="g" cx="104" cy="1078" r="3"/><circle id="y26" class="g" cx="108" cy="1083" r="3"/><circle id="y27" class="g" cx="88" cy="1087" r="3"/><circle id="y28" class="g" cx="120" cy="1089" r="3"/><circle id="y29" class="g" cx="128" cy="1087" r="3"/><circle id="y30" class="g" cx="152" cy="1089" r="3"/><circle id="y31" class="g" cx="148" cy="1095" r="3"/><circle id="y32" class="g" cx="142" cy="1100" r="3"/><circle id="y33" class="g" cx="107" cy="1104" r="3"/><circle id="y34" class="g" cx="126" cy="1107" r="3"/><circle id="y35" class="g" cx="109" cy="1124" r="3"/>
<circle id="y36" class="o" cx="316" cy="1025" r="3"/><circle id="y37" class="o" cx="299" cy="1051" r="3"/><circle id="y38" class="o" cx="354" cy="1051" r="3"/><circle id="y39" class="o" cx="365" cy="1056" r="3"/><circle id="y40" class="o" cx="299" cy="1076" r="3"/><circle id="y41" class="o" cx="337" cy="1081" r="3"/><circle id="y42" class="o" cx="315" cy="1083" r="3"/><circle id="y43" class="o" cx="381" cy="1082" r="3"/><circle id="y44" class="o" cx="344" cy="1087" r="3"/><circle id="y45" class="o" cx="313" cy="1097" r="3"/><circle id="y46" class="o" cx="347" cy="1097" r="3"/><circle id="y47" class="o" cx="364" cy="1097" r="3"/><circle id="y48" class="o" cx="345" cy="1103" r="3"/><circle id="y49" class="o" cx="313" cy="1105" r="3"/><circle id="y50" class="o" cx="340" cy="1110" r="3"/><circle id="y51" class="o" cx="322" cy="1114" r="3"/><circle id="y52" class="o" cx="301" cy="1121" r="3"/><circle id="y53" class="o" cx="331" cy="1133" r="3"/><circle id="y54" class="o" cx="342" cy="1130" r="3"/>
<text class="l" x="37" y="999">3</text><text class="l" x="79" y="1015">4</text><text class="l" x="99" y="1010">5</text><text class="l" x="118" y="1106">3</text><text class="l" x="229" y="1075">10</text><text class="l" x="347" y="1075">3</text>
</g>
<g id="legend" class="lg">
<text x="441" y="905">Family</text><text x="496" y="905">1. Generation</text><text x="610" y="905">2. Generation</text><text x="712" y="905">3. Generation</text>
<g text-anchor="middle"><text x="454" y="936">C</text><text x="454" y="973.5">J</text><text x="454" y="992">K</text><text x="454" y="1010.5">L</text><text x="454" y="1029.5">R</text><text x="455" y="1068">S</text><text x="455" y="1126">Y</text></g>
<rect class="sq" x="494.5" y="926" width="13" height="13" fill="#149447"/><text x="515" y="936">COCO (2x)</text>
<rect class="sq" x="494.5" y="963.5" width="13" height="13" fill="#149447"/><text x="515" y="973.5">JULIA</text>
<rect class="sq" x="494.5" y="982" width="13" height="13" fill="#149447"/><text x="515" y="992">KABISHA (2x)</text>
<rect class="sq" x="494.5" y="1000.5" width="13" height="13" fill="#149447"/><text x="515" y="1010.5">LOUISE</text>
<rect class="sq" x="494.5" y="1019.5" width="13" height="13" fill="#149447"/><text x="515" y="1029.5">RUBRA (3x)</text>
<rect class="sq" x="494.5" y="1058" width="13" height="13" fill="#149447"/><text x="515" y="1068">SUMATRA (2x)</text>
<rect class="sq" x="494.5" y="1116" width="13" height="13" fill="#149447"/><text x="515" y="1126">YUCCA (2x)</text>
<rect class="sq" x="607.5" y="926" width="13" height="13" fill="#f47f2a"/><text x="627" y="936">CELINE</text>
<rect class="sq" x="607.5" y="945" width="13" height="13" fill="#283081"/><text x="627" y="955">Caramel</text>
<rect class="sq" x="607.5" y="963.5" width="13" height="13" fill="#f47f2a"/><text x="627" y="973.5">Jacobo</text>
<rect class="sq" x="607.5" y="982" width="13" height="13" fill="#f47f2a"/><text x="627" y="992">KINSHASA (2x)</text>
<rect class="sq" x="607.5" y="1000.5" width="13" height="13" fill="#f47f2a"/><text x="627" y="1010.5">Lula</text>
<rect class="sq" x="607.5" y="1019.5" width="13" height="13" fill="#f47f2a"/><text x="627" y="1029.5">REBECCA</text>
<rect class="sq" x="607.5" y="1039" width="13" height="13" fill="#283081"/><text x="627" y="1049">Romario (2x)</text>
<rect class="sq" x="607.5" y="1058" width="13" height="13" fill="#f47f2a"/><text x="627" y="1068">Sagu (3x)</text>
<rect class="sq" x="607.5" y="1076.5" width="13" height="13" fill="#283081"/><text x="627" y="1086.5">SETTUT</text>
<rect class="sq" x="607.5" y="1096" width="13" height="13" fill="#3bbfbf"/><text x="627" y="1106">Shogun</text>
<rect class="sq" x="607.5" y="1116" width="13" height="13" fill="#f47f2a"/><text x="627" y="1126">Yao</text>
<rect class="sq" x="720.5" y="982" width="13" height="13" fill="#283081"/><text x="739" y="992">Kiriku</text>
</g>
</svg>
